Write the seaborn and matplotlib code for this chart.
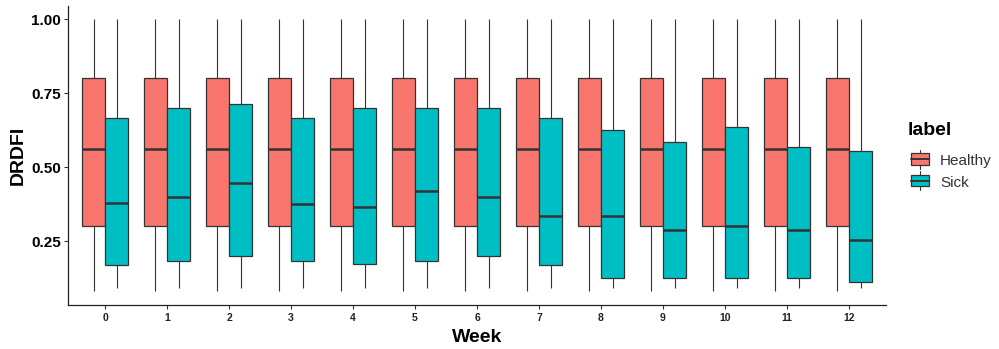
import pandas as pd
import numpy as np
import matplotlib.pyplot as plt
import matplotlib.patches as mpatches
from matplotlib.legend_handler import HandlerBase
from matplotlib.lines import Line2D
import seaborn as sns

# ── Data (five-number summary per week) ────────────────────────
weeks = [0, 1, 2, 3, 4, 5, 6, 7, 8, 9, 10, 11, 12]

healthy_min = [0.08, 0.08, 0.08, 0.08, 0.08, 0.08, 0.08, 0.08, 0.08, 0.08, 0.08, 0.08, 0.08]
healthy_q1  = [0.30, 0.30, 0.30, 0.30, 0.30, 0.30, 0.30, 0.30, 0.30, 0.30, 0.30, 0.30, 0.30]
healthy_med = [0.56, 0.56, 0.56, 0.56, 0.56, 0.56, 0.56, 0.56, 0.56, 0.56, 0.56, 0.56, 0.56]
healthy_q3  = [0.80, 0.80, 0.80, 0.80, 0.80, 0.80, 0.80, 0.80, 0.80, 0.80, 0.80, 0.80, 0.80]
healthy_max = [1.00, 1.00, 1.00, 1.00, 1.00, 1.00, 1.00, 1.00, 1.00, 1.00, 1.00, 1.00, 1.00]

sick_min = [0.09, 0.09, 0.09, 0.09, 0.09, 0.09, 0.09, 0.09, 0.09, 0.09, 0.09, 0.09, 0.09]
sick_q1  = [0.169, 0.183, 0.20, 0.183, 0.173, 0.183, 0.20, 0.17, 0.126, 0.126, 0.126, 0.126, 0.111]
sick_med = [0.378, 0.40, 0.447, 0.376, 0.366, 0.42, 0.40, 0.335, 0.335, 0.288, 0.30, 0.288, 0.254]
sick_q3  = [0.667, 0.70, 0.714, 0.667, 0.70, 0.70, 0.70, 0.667, 0.625, 0.584, 0.635, 0.569, 0.556]
sick_max = [1.00, 1.00, 1.00, 1.00, 1.00, 1.00, 1.00, 1.00, 1.00, 1.00, 1.00, 1.00, 1.00]

labels = ["Healthy", "Sick"]
palette = {"Healthy": "#F8766D", "Sick": "#00BFC4"}
EDGE = "#333333"

# five values per group -> quartiles land exactly on the summary
rows = []
for i, w in enumerate(weeks):
    for v in [healthy_min[i], healthy_q1[i], healthy_med[i], healthy_q3[i], healthy_max[i]]:
        rows.append({"Week": w, "DRDFI": v, "label": "Healthy"})
    for v in [sick_min[i], sick_q1[i], sick_med[i], sick_q3[i], sick_max[i]]:
        rows.append({"Week": w, "DRDFI": v, "label": "Sick"})
df = pd.DataFrame(rows)


# legend key drawn like ggplot's boxplot glyph
class BoxKey(HandlerBase):
    def create_artists(self, legend, orig, xd, yd, w, h, fontsize, trans):
        cx = xd + w / 2
        whisk = Line2D([cx, cx], [yd - 0.35 * h, yd + 1.35 * h], color=EDGE, lw=0.8, transform=trans)
        box = mpatches.Rectangle((xd, yd), w, h, facecolor=orig.get_facecolor(),
                                 edgecolor=EDGE, lw=0.9, transform=trans)
        med = Line2D([xd, xd + w], [yd + h / 2, yd + h / 2], color=EDGE, lw=1.4, transform=trans)
        return [whisk, box, med]


sns.set_theme(style="ticks")
plt.rcParams["font.family"] = ["Liberation Sans", "DejaVu Sans"]

fig = plt.figure(figsize=(9.99, 3.49), dpi=100)
ax = fig.add_axes([0.068, 0.126, 0.819, 0.858])

sns.boxplot(data=df, x="Week", y="DRDFI", hue="label", order=weeks, hue_order=labels,
            palette=palette, width=0.75, gap=0, whis=(0, 100), showcaps=False,
            linecolor=EDGE, linewidth=0.9, saturation=1,
            medianprops=dict(linewidth=1.8, color=EDGE),
            whiskerprops=dict(linewidth=0.8, color=EDGE), ax=ax)

ax.set_xlim(-0.6, 12.6)
ax.set_ylim(0.034, 1.046)
ax.set_yticks([0.25, 0.50, 0.75, 1.00])
ax.set_yticklabels(["0.25", "0.50", "0.75", "1.00"])
ax.tick_params(axis="y", labelsize=11, length=3, width=0.8, color=EDGE, pad=2, labelcolor="black")
ax.tick_params(axis="x", labelsize=7.5, length=3, width=0.8, color=EDGE, pad=3, labelcolor="#222222")
for t in ax.get_xticklabels() + ax.get_yticklabels():
    t.set_fontweight("bold")
for s in ["left", "bottom"]:
    ax.spines[s].set_color("#222222")
    ax.spines[s].set_linewidth(0.9)
sns.despine(ax=ax)

ax.set_xlabel("Week", fontsize=14, fontweight="bold", labelpad=4, color="black")
ax.set_ylabel("DRDFI", fontsize=14, fontweight="bold", labelpad=3, color="black")

ax.get_legend().remove()
fig.text(0.909, 0.625, "label", fontsize=14, fontweight="bold", color="black", va="center", ha="left")
handles = [mpatches.Patch(facecolor=palette[l]) for l in labels]
fig.legend(handles, labels, loc="upper left", bbox_to_anchor=(0.907, 0.572),
           frameon=False, fontsize=11, labelcolor="#333333",
           handler_map={mpatches.Patch: BoxKey()},
           handlelength=1.18, handleheight=0.75, handletextpad=0.75,
           labelspacing=0.5, borderaxespad=0, borderpad=0.3)

plt.savefig("out.png", dpi=100)
